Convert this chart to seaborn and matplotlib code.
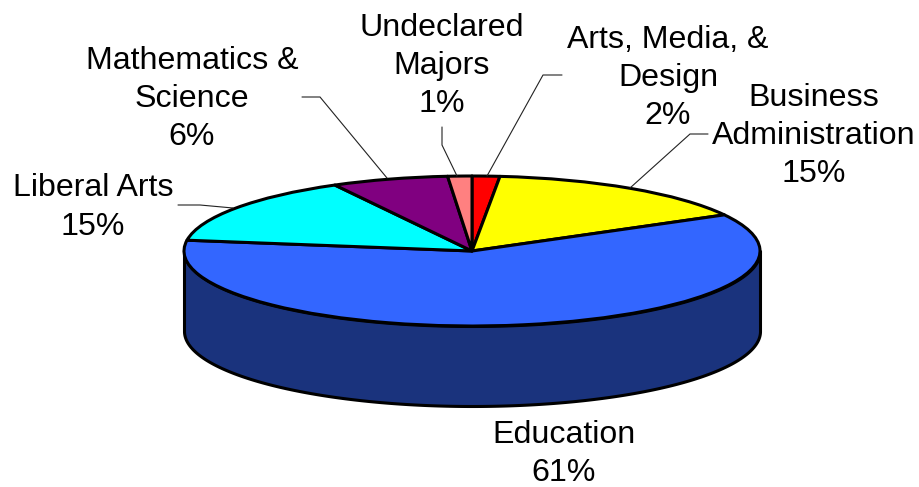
import numpy as np
import matplotlib
matplotlib.use("Agg")
import matplotlib.pyplot as plt
import seaborn as sns

# Data
categories = ["Arts, Media, &\nDesign", "Business\nAdministration", "Education",
              "Liberal Arts", "Mathematics &\nScience", "Undeclared\nMajors"]
shown_percent = [2, 15, 61, 15, 6, 1]
slice_shares = [1.55, 15.45, 60.3, 14.8, 6.55, 1.35]
slice_colors = ["#FF0000", "#FFFF00", "#3366FF", "#00FFFF", "#800080", "#FF8080"]
side_color = "#1A337D"

# Layout, in reference pixels
W, H = 919, 487
cx, cy, rx, ry, depth = 472, 251, 288, 75, 80
label_xy = [(668, 78), (814, 136), (564, 454), (93, 207.5), (192, 99), (442, 66)]
leaders = [
    [(487, 176), (543, 75), (562, 75)],
    [(630, 188), (690, 134), (708, 134)],
    None,
    [(233, 208), (200, 205), (178, 205)],
    [(387, 178), (320, 97), (302, 97)],
    [(457, 176), (442, 145), (442, 127)],
]

sns.set_theme(style="white")
plt.rcParams["font.family"] = ["Liberation Sans", "DejaVu Sans"]

fig = plt.figure(figsize=(W / 100, H / 100), dpi=100, facecolor="white")
ax = fig.add_axes([0, 0, 1, 1])
ax.pie(slice_shares, colors=sns.color_palette(slice_colors), startangle=90,
       counterclock=False, frame=False,
       wedgeprops=dict(edgecolor="black", linewidth=2.2, joinstyle="round", zorder=3))
ax.set_aspect("auto")
ax.set_xlim(-cx / rx, (W - cx) / rx)
ax.set_ylim(-(H - cy) / ry, cy / ry)
ax.axis("off")

# Side wall of the disc, below the front edge
t = np.linspace(np.pi, 2 * np.pi, 300)
edge_x, edge_y = np.cos(t), np.sin(t)
ax.fill_between(edge_x, edge_y, edge_y - depth / ry, facecolor=side_color,
                edgecolor="black", linewidth=2.2, zorder=1)

# Overlay in pixel coordinates for labels and leader lines
ov = fig.add_axes([0, 0, 1, 1], facecolor="none")
ov.set_xlim(0, W)
ov.set_ylim(H, 0)
ov.axis("off")
for name, pct, (lx, ly), leader in zip(categories, shown_percent, label_xy, leaders):
    ov.text(lx, ly, f"{name}\n{pct}%", ha="center", va="center", fontsize=23.1,
            color="black", linespacing=1.35, multialignment="center")
    if leader:
        xs, ys = zip(*leader)
        ov.plot(xs, ys, color="#222222", lw=0.8, solid_joinstyle="miter")

fig.savefig("out.png", dpi=100, facecolor="white")
